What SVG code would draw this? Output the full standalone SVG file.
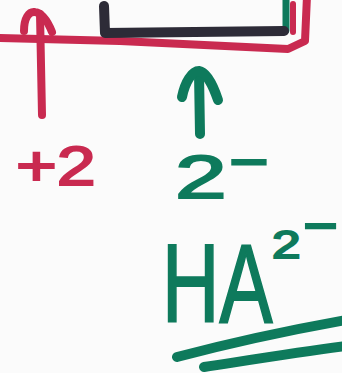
<svg xmlns="http://www.w3.org/2000/svg" width="342" height="373" viewBox="0 0 342 373">
<style>
.red{stroke:#c92a50;fill:none;stroke-width:8;stroke-linecap:round;stroke-linejoin:round}
.grn{stroke:#0e7a5c;fill:none;stroke-width:10;stroke-linecap:round;stroke-linejoin:round}
.drk{stroke:#2d2b37;fill:none;stroke-width:10;stroke-linecap:round;stroke-linejoin:round}
.tr{fill:#c92a50;stroke:#c92a50;stroke-width:2;font-family:"Liberation Sans",Arial,sans-serif}
.tg{fill:#0e7a5c;stroke:#0e7a5c;stroke-width:2;font-family:"Liberation Sans",Arial,sans-serif}
</style>
<rect width="342" height="373" fill="#fbfbfb"/>
<!-- red baseline with bend up -->
<path class="red" d="M-4,38 L120,41 L288,49 L305,41 L307,-4"/>
<!-- dark bracket -->
<path class="grn" style="stroke-width:7" d="M286,-4 L286,30"/>
<path class="drk" d="M104,6 L105,33 L284,31"/>
<path class="red" style="stroke-width:6" d="M293,4 L293,32"/>
<!-- red arrow -->
<path class="red" d="M42,115 L40,14"/>
<path class="red" d="M24,31 C24,18 29,11 35,12 C42,13 48,22 52,32"/>
<!-- green arrow -->
<path class="grn" d="M200,134 L199,73"/>
<path class="grn" d="M182,97 C185,82 192,71 199,71 C206,72 213,85 218,100"/>
<!-- labels -->
<text class="tr" transform="translate(16,185) scale(1.25,1)" font-size="56">+2</text>
<text class="tg" transform="translate(175,198) scale(1.5,1)" font-size="62">2</text>
<text class="tg" transform="translate(229,183) scale(1.1,1)" font-size="62">−</text>
<text class="tg" transform="translate(162,322) scale(0.71,1)" font-size="112">HA</text>
<text class="tg" transform="translate(272,258) scale(1.35,1)" font-size="38">2</text>
<text class="tg" transform="translate(303,246)" font-size="60">−</text>
<!-- underlines -->
<path class="grn" d="M177,357 C230,343 290,330 346,320"/>
<path class="grn" d="M204,367 C250,360 300,352 346,346"/>
</svg>
